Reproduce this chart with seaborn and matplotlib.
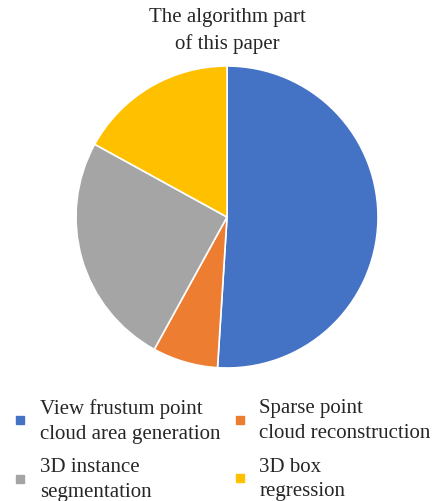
import matplotlib
matplotlib.use("Agg")
import matplotlib.pyplot as plt
import seaborn as sns
from matplotlib.lines import Line2D

# ---- data ----
parts = ["View frustum point\ncloud area generation",
         "Sparse point\ncloud reconstruction",
         "3D instance\nsegmentation",
         "3D box\nregression"]
shares = [51, 7, 25, 17]
colors = ["#4472C4", "#ED7D31", "#A5A5A5", "#FFC000"]
title = "The algorithm part\nof this paper"

sns.set_theme(style="white")
plt.rcParams["font.family"] = ["Liberation Serif", "DejaVu Serif"]

W, H = 446, 502
fig = plt.figure(figsize=(W / 100, H / 100), dpi=100)

# pie centre ~ (227, 218) px, radius ~151 px
cx, cy, r = 227, 218, 151
ax = fig.add_axes([(cx - r) / W, 1 - (cy + r) / H, 2 * r / W, 2 * r / H])
ax.pie(shares, colors=colors, startangle=90, counterclock=False,
       wedgeprops=dict(edgecolor="white", linewidth=1.2))
ax.set_xlim(-1, 1)
ax.set_ylim(-1, 1)
ax.set_aspect("equal")
ax.axis("off")

fig.text(cx / W, 1 - 8 / H, title, ha="center", va="top",
         fontsize=15, color="#262626", linespacing=1.45)

# legend, column-major order
order = [0, 2, 1, 3]
handles = [Line2D([], [], marker="s", linestyle="none", markersize=6,
                  markerfacecolor=colors[i], markeredgecolor=colors[i]) for i in order]
labels = [parts[i] for i in order]
leg = fig.legend(handles, labels, ncol=2, loc="upper left",
                 bbox_to_anchor=(12 / W, 1 - 399 / H), frameon=False,
                 fontsize=15, labelcolor="#262626", handlelength=0.76,
                 handletextpad=0.57, columnspacing=0.55, labelspacing=0.7,
                 borderaxespad=0, borderpad=0)
for t in leg.get_texts():
    t.set_linespacing(1.4)

fig.savefig("out.png", dpi=100)
